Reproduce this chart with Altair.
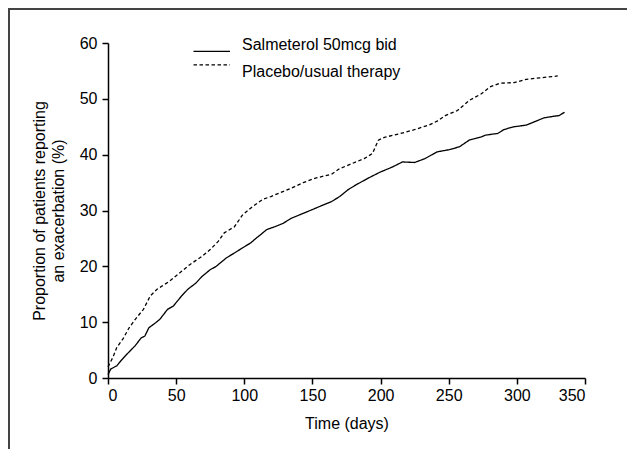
import altair as alt
import pandas as pd

series_names = ["Salmeterol 50mcg bid", "Placebo/usual therapy"]

salm_days = [0, 2, 6.5, 9.5, 14, 20, 24.4, 27, 30, 35, 38, 43.7, 48, 54, 58.6, 64.5, 69, 75, 79.4, 86.8,
             92.8, 98.7, 104.7, 109, 113.6, 116.6, 122.5, 128.5, 134.4, 140.4, 149.3, 158, 164, 170, 176,
             182, 191, 199.9, 208.8, 216, 225, 232.6, 241.5, 250.4, 257.8, 265, 274, 277, 286, 290.5,
             298, 307, 313, 320, 327.7, 331, 335]
salm_vals = [0.6, 1.6, 2.2, 3.1, 4.3, 5.8, 7.2, 7.5, 9.0, 9.9, 10.5, 12.3, 12.9, 14.7, 15.9, 17.0, 18.2,
             19.4, 20.0, 21.5, 22.4, 23.3, 24.2, 25.1, 26.0, 26.6, 27.1, 27.7, 28.6, 29.2, 30.1, 31.0,
             31.6, 32.5, 33.7, 34.6, 35.8, 36.9, 37.8, 38.7, 38.6, 39.3, 40.5, 40.9, 41.4, 42.6, 43.2,
             43.5, 43.8, 44.5, 45.0, 45.3, 45.9, 46.6, 46.9, 47.0, 47.6]

plac_days = [0, 3.6, 6.5, 11, 15.5, 20, 26, 31, 36, 45, 54, 60, 69, 75, 81, 85.3, 92.8, 98.7, 106, 113.6,
             119.5, 125.5, 134.4, 143.3, 152.2, 164, 170, 179, 188, 194, 198.4, 202.8, 214.7, 223.7,
             235.5, 241.5, 247.5, 256.4, 265, 274, 280, 287.6, 298, 307, 318.8, 330]
plac_vals = [2.0, 3.7, 5.5, 7.0, 9.0, 10.5, 12.3, 14.7, 15.9, 17.3, 19.1, 20.3, 21.8, 23.0, 24.5, 26.0,
             27.1, 29.2, 30.7, 32.0, 32.5, 33.1, 34.0, 35.0, 35.8, 36.5, 37.5, 38.4, 39.3, 40.2, 42.6,
             43.1, 43.8, 44.4, 45.3, 46.0, 47.0, 47.9, 49.7, 50.9, 52.1, 52.8, 52.9, 53.5, 53.8, 54.1]

x_ticks = [0, 50, 100, 150, 200, 250, 300, 350]
y_ticks = [0, 10, 20, 30, 40, 50, 60]

df = pd.concat([
    pd.DataFrame({"day": salm_days, "pct": salm_vals, "series": series_names[0], "order": range(len(salm_days))}),
    pd.DataFrame({"day": plac_days, "pct": plac_vals, "series": series_names[1], "order": range(len(plac_days))}),
])
legend_df = pd.DataFrame({"series": series_names})

FONT = "Liberation Sans"
W, H = 477, 335

dash_scale = alt.Scale(domain=series_names, range=[[1, 0], [3.5, 2.5]])

lines = alt.Chart(df).mark_line(color="black", strokeWidth=1.3).encode(
    x=alt.X("day:Q", scale=alt.Scale(domain=[0, 350], nice=False),
            axis=alt.Axis(values=x_ticks, title="Time (days)")),
    y=alt.Y("pct:Q", scale=alt.Scale(domain=[0, 60], nice=False),
            axis=alt.Axis(values=y_ticks,
                          title=["Proportion of patients reporting", "an exacerbation (%)"])),
    strokeDash=alt.StrokeDash("series:N", scale=dash_scale, legend=None),
    order="order:Q",
)

leg_y = alt.Y("series:N", scale=alt.Scale(domain=series_names, range=[1.7, 28.5], padding=0), axis=None)
leg_rule = alt.Chart(legend_df).mark_rule(color="black", strokeWidth=1.3).encode(
    x=alt.value(85.5), x2=alt.value(122), y=leg_y,
    strokeDash=alt.StrokeDash("series:N", scale=dash_scale, legend=None),
)
leg_text = alt.Chart(legend_df).mark_text(align="left", baseline="middle", font=FONT,
                                           fontSize=16, color="black").encode(
    x=alt.value(134), y=leg_y, text="series:N",
)

frame_top = alt.Chart(legend_df).mark_rule(color="#444444", strokeWidth=2).encode(
    x=alt.value(-100), x2=alt.value(W + 42), y=alt.value(-34))
frame_left = alt.Chart(legend_df).mark_rule(color="#444444", strokeWidth=2).encode(
    x=alt.value(-99), y=alt.value(-35), y2=alt.value(H + 75))

chart = alt.layer(lines, leg_rule, leg_text, frame_top, frame_left).resolve_scale(
    y="independent"
).properties(
    width=W, height=H,
    autosize=alt.AutoSizeParams(type="none"),
    padding={"left": 100, "top": 35, "right": 42, "bottom": 75},
).configure_view(stroke=None).configure_axis(
    grid=False, domainColor="black", domainWidth=1.5, tickColor="black", tickWidth=1.5,
    tickSize=6, labelFont=FONT, labelFontSize=16, labelColor="black", labelPadding=3,
    titleFont=FONT, titleFontSize=16, titleFontWeight="normal", titleColor="black",
).configure_axisX(titlePadding=12).configure_axisY(titlePadding=13, titleLineHeight=19, labelPadding=5)

chart.save("out.html", embed_options={"renderer": "svg", "actions": False})
